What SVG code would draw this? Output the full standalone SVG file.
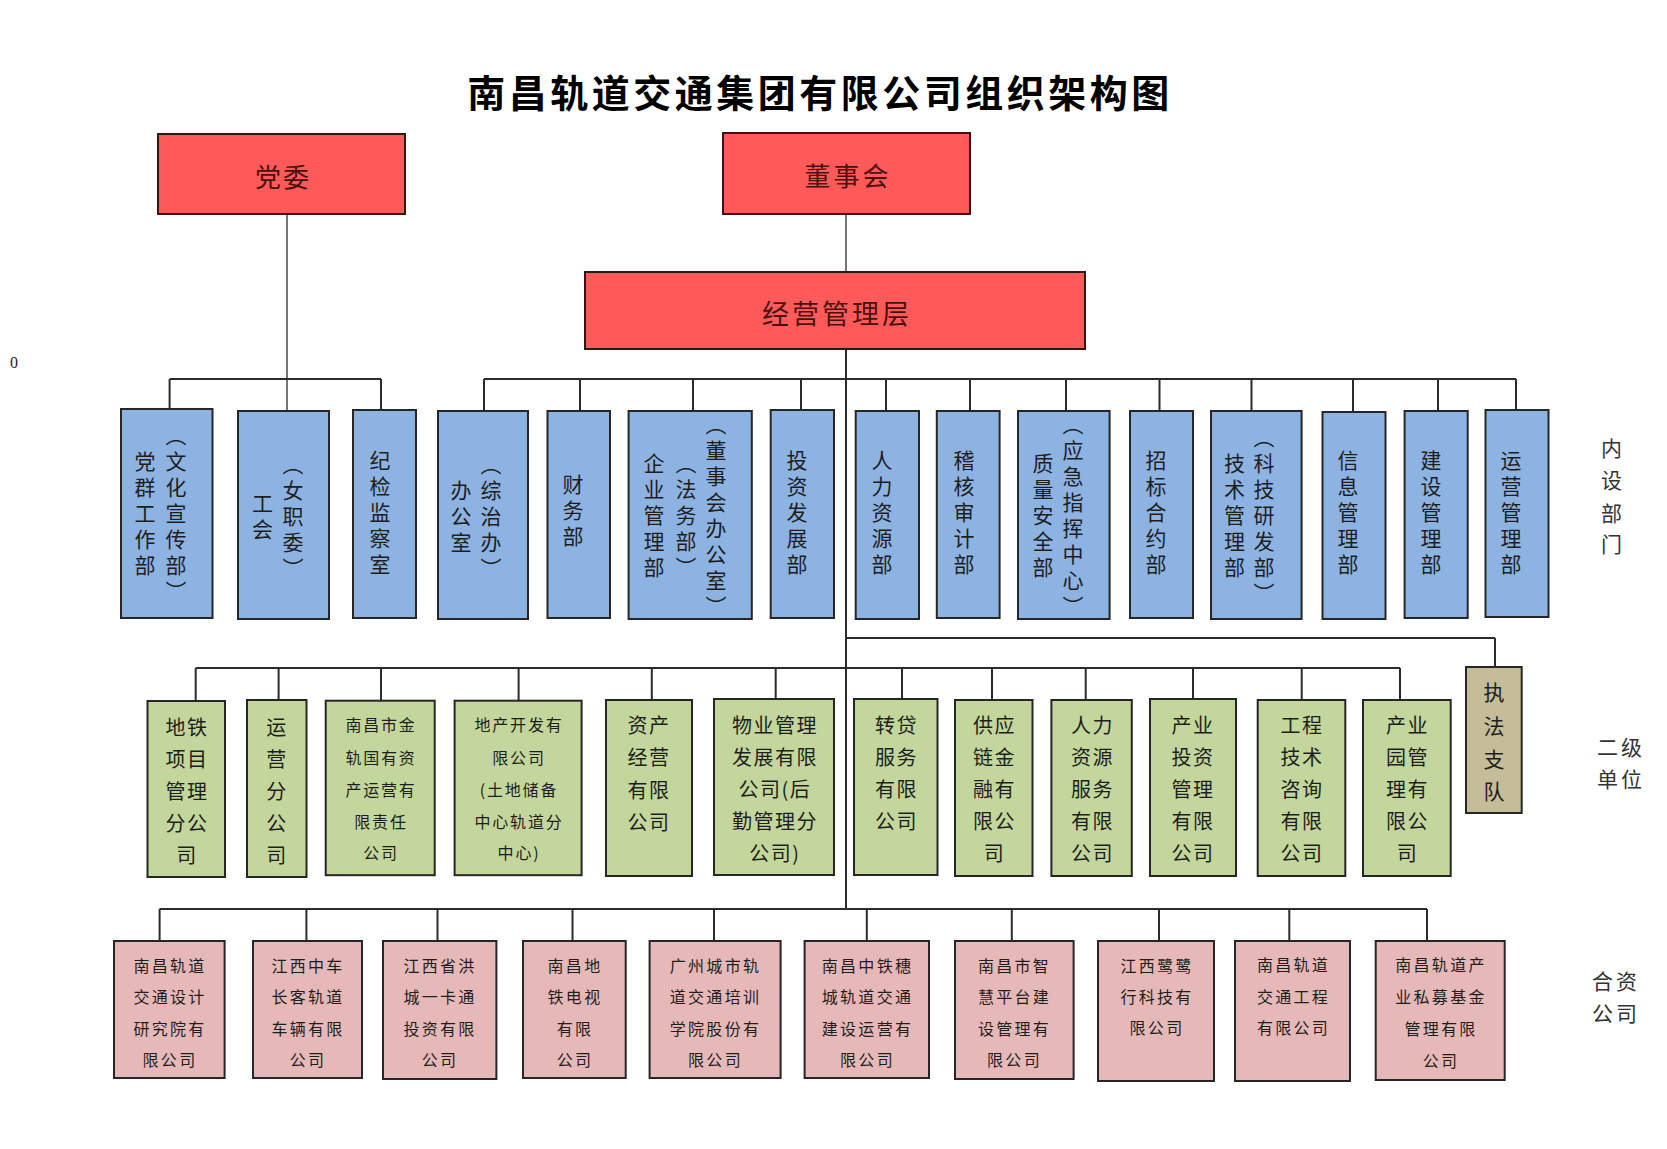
<svg xmlns="http://www.w3.org/2000/svg" width="1667" height="1149" viewBox="0 0 1667 1149">
<style>
text{font-family:"Noto Sans CJK SC","Noto Sans",sans-serif;fill:#1e1e1e}
.title{font-size:38px;font-weight:700;letter-spacing:3.5px;fill:#000}
.red rect{fill:#FF5A5A;stroke:#3a1414;stroke-width:2}
.red text{font-size:26px;letter-spacing:2px;fill:#4a1010}
.blue rect{fill:#8DB3E2;stroke:#262626;stroke-width:2}
.blue text{font-size:21px;letter-spacing:5px;writing-mode:vertical-rl;text-anchor:middle}
.green rect{fill:#C3D69B;stroke:#262626;stroke-width:2}
.green text{font-size:20px;letter-spacing:1.5px;text-anchor:middle;dominant-baseline:central}
.green text.s{font-size:16px;letter-spacing:1.8px}
.tan rect{fill:#C4BD97;stroke:#262626;stroke-width:2}
.tan text{font-size:21px;text-anchor:middle;dominant-baseline:central}
.pink rect{fill:#E6B9B8;stroke:#262626;stroke-width:2}
.pink text{font-size:16px;letter-spacing:2.3px;text-anchor:middle;dominant-baseline:central}
.lbl{font-size:21px;letter-spacing:3px;text-anchor:middle;dominant-baseline:central;fill:#333}
#connectors line{stroke:#2b2b2b;stroke-width:2}
#connectors line.thin{stroke-width:1.3}
</style>
<rect width="1667" height="1149" fill="#fff"/>
<text class="title" x="820" y="90" text-anchor="middle" dominant-baseline="central">南昌轨道交通集团有限公司组织架构图</text>
<text x="14" y="362" style="font-family:'Liberation Serif',serif;font-size:16px" text-anchor="middle" dominant-baseline="central">0</text>

<g id="connectors">
<line class="thin" x1="287" y1="214" x2="287" y2="411"/>
<line x1="169.6" y1="379" x2="381" y2="379"/>
<line x1="169.6" y1="379" x2="169.6" y2="409"/>
<line x1="381" y1="379" x2="381" y2="410"/>
<line class="thin" x1="846" y1="214" x2="846" y2="272"/>
<line x1="846" y1="349" x2="846" y2="909"/>
<line x1="484" y1="379" x2="1516" y2="379"/>
<line x1="484" y1="379" x2="484" y2="411"/>
<line x1="580" y1="379" x2="580" y2="411"/>
<line x1="693" y1="379" x2="693" y2="411"/>
<line x1="801" y1="379" x2="801" y2="411"/>
<line x1="886" y1="379" x2="886" y2="411"/>
<line x1="970" y1="379" x2="970" y2="411"/>
<line x1="1066" y1="379" x2="1066" y2="411"/>
<line x1="1159.5" y1="379" x2="1159.5" y2="411"/>
<line x1="1251.5" y1="379" x2="1251.5" y2="411"/>
<line x1="1353" y1="379" x2="1353" y2="411"/>
<line x1="1438" y1="379" x2="1438" y2="411"/>
<line x1="1516" y1="379" x2="1516" y2="411"/>
<line x1="846" y1="638" x2="1495" y2="638"/>
<line x1="1495" y1="638" x2="1495" y2="667"/>
<line x1="195.7" y1="668" x2="1400" y2="668"/>
<line x1="195.7" y1="668" x2="195.7" y2="701"/>
<line x1="278.6" y1="668" x2="278.6" y2="700"/>
<line x1="381" y1="668" x2="381" y2="700"/>
<line x1="518.6" y1="668" x2="518.6" y2="700"/>
<line x1="651.8" y1="668" x2="651.8" y2="700"/>
<line x1="775.7" y1="668" x2="775.7" y2="699"/>
<line x1="902" y1="668" x2="902" y2="699"/>
<line x1="992" y1="668" x2="992" y2="700"/>
<line x1="1085.7" y1="668" x2="1085.7" y2="700"/>
<line x1="1193" y1="668" x2="1193" y2="699"/>
<line x1="1301.7" y1="668" x2="1301.7" y2="700"/>
<line x1="1400" y1="668" x2="1400" y2="700"/>
<line x1="159.6" y1="909" x2="1427" y2="909"/>
<line x1="159.6" y1="909" x2="159.6" y2="941"/>
<line x1="306.4" y1="909" x2="306.4" y2="941"/>
<line x1="437.5" y1="909" x2="437.5" y2="941"/>
<line x1="572.5" y1="909" x2="572.5" y2="941"/>
<line x1="714" y1="909" x2="714" y2="941"/>
<line x1="866.8" y1="909" x2="866.8" y2="941"/>
<line x1="1011.8" y1="909" x2="1011.8" y2="941"/>
<line x1="1159" y1="909" x2="1159" y2="941"/>
<line x1="1289.3" y1="909" x2="1289.3" y2="941"/>
<line x1="1427" y1="909" x2="1427" y2="941"/>
</g>

<g id="n-dangwei" class="red"><rect x="158" y="134" width="247" height="80"/><text x="283" y="175" text-anchor="middle" dominant-baseline="central">党委</text></g>
<g id="n-dongshihui" class="red"><rect x="723" y="133" width="247" height="81"/><text x="848" y="174" text-anchor="middle" dominant-baseline="central" style="letter-spacing:3px">董事会</text></g>
<g id="n-jingying" class="red"><rect x="585" y="272" width="500" height="77"/><text x="837" y="312" text-anchor="middle" dominant-baseline="central" style="font-size:27px;letter-spacing:3px">经营管理层</text></g>

<g id="d1" class="blue"><rect x="121" y="409" width="91.5" height="209"/><text x="145" y="516">党群工作部</text><text x="176" y="516">（文化宣传部）</text></g>
<g id="d2" class="blue"><rect x="238" y="411" width="91" height="208"/><text x="262.5" y="519">工会</text><text x="293" y="519">（女职委）</text></g>
<g id="d3" class="blue"><rect x="353" y="410" width="63" height="208"/><text x="380" y="515">纪检监察室</text></g>
<g id="d4" class="blue"><rect x="438" y="411" width="90" height="208"/><text x="461" y="519">办公室</text><text x="491" y="519">（综治办）</text></g>
<g id="d5" class="blue"><rect x="547.5" y="411" width="62.5" height="207"/><text x="573" y="513">财务部</text></g>
<g id="d6" class="blue"><rect x="628.6" y="411" width="123.2" height="208"/><text x="654" y="518">企业管理部</text><text x="686" y="518">（法务部）</text><text x="716" y="518">（董事会办公室）</text></g>
<g id="d7" class="blue"><rect x="770.7" y="410" width="63.3" height="208"/><text x="797" y="515">投资发展部</text></g>
<g id="d8" class="blue"><rect x="855.7" y="411" width="63.3" height="208"/><text x="882" y="515">人力资源部</text></g>
<g id="d9" class="blue"><rect x="936.8" y="411" width="62.8" height="207"/><text x="964" y="515">稽核审计部</text></g>
<g id="d10" class="blue"><rect x="1018" y="411" width="91.6" height="208"/><text x="1043" y="518">质量安全部</text><text x="1073" y="518">（应急指挥中心）</text></g>
<g id="d11" class="blue"><rect x="1130" y="411" width="63" height="207"/><text x="1156" y="515">招标合约部</text></g>
<g id="d12" class="blue"><rect x="1211" y="411" width="90.6" height="208"/><text x="1234.5" y="518">技术管理部</text><text x="1264" y="518">（科技研发部）</text></g>
<g id="d13" class="blue"><rect x="1322.5" y="412" width="63" height="207"/><text x="1348" y="515">信息管理部</text></g>
<g id="d14" class="blue"><rect x="1404.6" y="411" width="63.1" height="207"/><text x="1431" y="515">建设管理部</text></g>
<g id="d15" class="blue"><rect x="1485.5" y="410" width="63" height="207"/><text x="1511" y="515">运营管理部</text></g>

<g id="s1" class="green"><rect x="147.5" y="701" width="77.5" height="176"/><text x="187" y="726">地铁</text><text x="187" y="758">项目</text><text x="187" y="790">管理</text><text x="187" y="822">分公</text><text x="187" y="854">司</text></g>
<g id="s2" class="green"><rect x="247" y="700" width="59.5" height="177"/><text x="277" y="726">运</text><text x="277" y="758">营</text><text x="277" y="790">分</text><text x="277" y="822">公</text><text x="277" y="854">司</text></g>
<g id="s3" class="green"><rect x="325.7" y="700.7" width="109" height="174.5"/><text class="s" x="381" y="724">南昌市金</text><text class="s" x="381" y="756.5">轨国有资</text><text class="s" x="381" y="789">产运营有</text><text class="s" x="381" y="821">限责任</text><text class="s" x="381" y="852">公司</text></g>
<g id="s4" class="green"><rect x="454.6" y="700.7" width="127" height="174.5"/><text class="s" x="519" y="724">地产开发有</text><text class="s" x="519" y="756.5">限公司</text><text class="s" x="519" y="789">(土地储备</text><text class="s" x="519" y="821">中心轨道分</text><text class="s" x="519" y="852">中心)</text></g>
<g id="s5" class="green"><rect x="606" y="700" width="86" height="176"/><text x="649" y="724">资产</text><text x="649" y="756.5">经营</text><text x="649" y="789">有限</text><text x="649" y="821">公司</text></g>
<g id="s6" class="green"><rect x="714" y="699" width="120" height="176"/><text x="775" y="724">物业管理</text><text x="775" y="756">发展有限</text><text x="775" y="788">公司(后</text><text x="775" y="820">勤管理分</text><text x="775" y="852">公司)</text></g>
<g id="s7" class="green"><rect x="854" y="699" width="83.5" height="176"/><text x="896.5" y="724">转贷</text><text x="896.5" y="756">服务</text><text x="896.5" y="788">有限</text><text x="896.5" y="820">公司</text></g>
<g id="s8" class="green"><rect x="955" y="700" width="77.5" height="176"/><text x="994.5" y="724">供应</text><text x="994.5" y="756">链金</text><text x="994.5" y="788">融有</text><text x="994.5" y="820">限公</text><text x="994.5" y="852">司</text></g>
<g id="s9" class="green"><rect x="1051.4" y="700" width="80.4" height="176"/><text x="1092.5" y="724">人力</text><text x="1092.5" y="756">资源</text><text x="1092.5" y="788">服务</text><text x="1092.5" y="820">有限</text><text x="1092.5" y="852">公司</text></g>
<g id="s10" class="green"><rect x="1150" y="699" width="86" height="177"/><text x="1193" y="724">产业</text><text x="1193" y="756">投资</text><text x="1193" y="788">管理</text><text x="1193" y="820">有限</text><text x="1193" y="852">公司</text></g>
<g id="s11" class="green"><rect x="1257.7" y="700" width="87.6" height="176"/><text x="1302" y="724">工程</text><text x="1302" y="756">技术</text><text x="1302" y="788">咨询</text><text x="1302" y="820">有限</text><text x="1302" y="852">公司</text></g>
<g id="s12" class="green"><rect x="1363" y="700" width="87.7" height="176"/><text x="1407.5" y="724">产业</text><text x="1407.5" y="756">园管</text><text x="1407.5" y="788">理有</text><text x="1407.5" y="820">限公</text><text x="1407.5" y="852">司</text></g>
<g id="s13" class="tan"><rect x="1466" y="667" width="55.7" height="146"/><text x="1494" y="691">执</text><text x="1494" y="725">法</text><text x="1494" y="758">支</text><text x="1494" y="790">队</text></g>

<g id="j1" class="pink"><rect x="114" y="941" width="110.6" height="137"/><text x="170" y="965">南昌轨道</text><text x="170" y="996">交通设计</text><text x="170" y="1027.5">研究院有</text><text x="170" y="1059">限公司</text></g>
<g id="j2" class="pink"><rect x="253" y="941" width="109" height="137"/><text x="308" y="965">江西中车</text><text x="308" y="996">长客轨道</text><text x="308" y="1027.5">车辆有限</text><text x="308" y="1059">公司</text></g>
<g id="j3" class="pink"><rect x="383" y="941" width="113.4" height="138"/><text x="440" y="965">江西省洪</text><text x="440" y="996">城一卡通</text><text x="440" y="1027.5">投资有限</text><text x="440" y="1059">公司</text></g>
<g id="j4" class="pink"><rect x="523" y="941" width="102.7" height="137"/><text x="575" y="965">南昌地</text><text x="575" y="996">铁电视</text><text x="575" y="1027.5">有限</text><text x="575" y="1059">公司</text></g>
<g id="j5" class="pink"><rect x="649.6" y="941" width="131" height="137"/><text x="715.5" y="965">广州城市轨</text><text x="715.5" y="996">道交通培训</text><text x="715.5" y="1027.5">学院股份有</text><text x="715.5" y="1059">限公司</text></g>
<g id="j6" class="pink"><rect x="804.6" y="941" width="124.4" height="137"/><text x="867.5" y="965">南昌中铁穗</text><text x="867.5" y="996">城轨道交通</text><text x="867.5" y="1027.5">建设运营有</text><text x="867.5" y="1059">限公司</text></g>
<g id="j7" class="pink"><rect x="955" y="941" width="118.6" height="138"/><text x="1014.5" y="965">南昌市智</text><text x="1014.5" y="996">慧平台建</text><text x="1014.5" y="1027.5">设管理有</text><text x="1014.5" y="1059">限公司</text></g>
<g id="j8" class="pink"><rect x="1098" y="941" width="116" height="140"/><text x="1157" y="965">江西鹭鹭</text><text x="1157" y="996">行科技有</text><text x="1157" y="1027">限公司</text></g>
<g id="j9" class="pink"><rect x="1235" y="941" width="115" height="140"/><text x="1293.5" y="964">南昌轨道</text><text x="1293.5" y="995.5">交通工程</text><text x="1293.5" y="1026.5">有限公司</text></g>
<g id="j10" class="pink"><rect x="1375.7" y="941" width="129" height="139"/><text x="1441" y="964">南昌轨道产</text><text x="1441" y="995.5">业私募基金</text><text x="1441" y="1028">管理有限</text><text x="1441" y="1059.5">公司</text></g>

<g id="labels">
<text class="lbl" x="1613" y="447">内</text><text class="lbl" x="1613" y="479">设</text><text class="lbl" x="1613" y="512">部</text><text class="lbl" x="1613" y="543">门</text>
<text class="lbl" x="1621" y="746">二级</text><text class="lbl" x="1621" y="778">单位</text>
<text class="lbl" x="1616" y="980">合资</text><text class="lbl" x="1616" y="1012">公司</text>
</g>
</svg>
